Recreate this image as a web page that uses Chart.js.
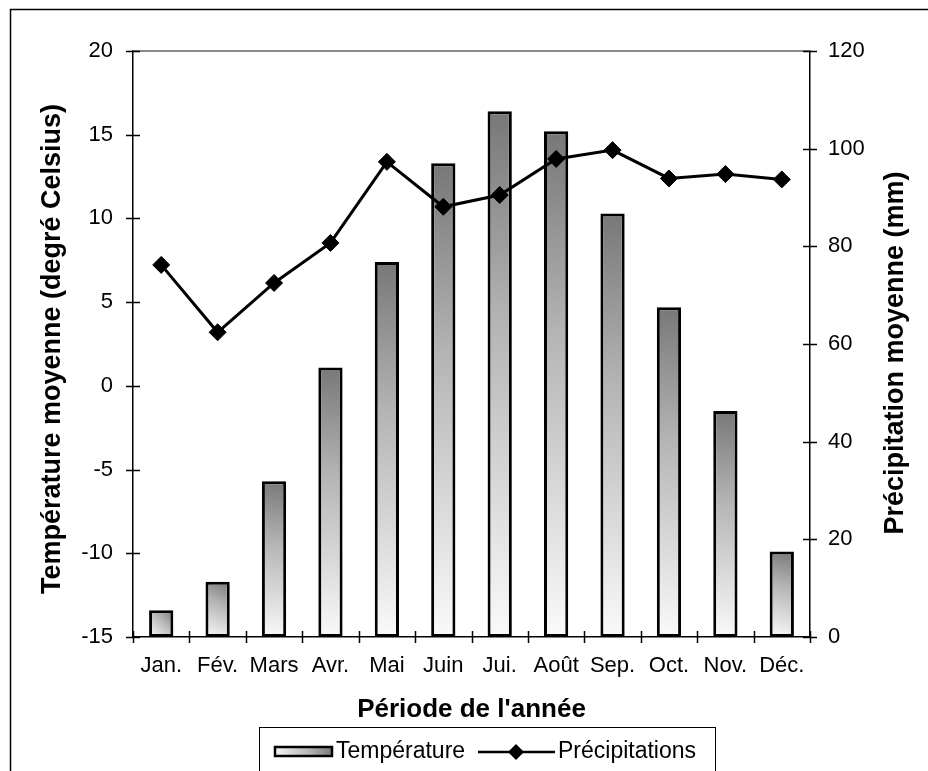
<!DOCTYPE html>
<html><head><meta charset="utf-8">
<script src="https://cdn.jsdelivr.net/npm/chart.js@4.4.1/dist/chart.umd.min.js"></script>
<style>html,body{margin:0;padding:0;background:#fff;}canvas{display:block;}</style>
</head><body>
<canvas id="c" width="928" height="771"></canvas>
<script>
const months = ['Jan.','Fév.','Mars','Avr.','Mai','Juin','Jui.','Août','Sep.','Oct.','Nov.','Déc.'];
const temperature = [-13.4,-11.7,-5.7,1.1,7.4,13.3,16.4,15.2,10.3,4.7,-1.5,-9.9];
const precipitation = [76.2,62.4,72.5,80.7,97.3,88.1,90.5,97.9,99.7,93.9,94.8,93.7];
const tempTicks = {min:-15, max:20, step:5};
const precTicks = {min:0, max:120, step:20};
const xTitle = "Période de l'année";
const yTitle = 'Température moyenne (degré Celsius)';
const y1Title = 'Précipitation moyenne (mm)';
const legendLabels = ['Température','Précipitations'];

const FONT = "'Liberation Sans', Arial, sans-serif";
const BAR_PCT = 0.43;

function barGradient(ctx2d, x0, y0, x1, y1) {
  if (![x0, y0, x1, y1].every(Number.isFinite)) return '#aaa';
  const g = ctx2d.createLinearGradient(x0, y0, x1, y1);
  g.addColorStop(0, '#fafafa');
  g.addColorStop(0.6, '#b4b4b4');
  g.addColorStop(1, '#777777');
  return g;
}

const decorPlugin = {
  id: 'decor',
  beforeDraw(chart) {
    const c = chart.ctx;
    c.save();
    c.fillStyle = '#fff';
    c.fillRect(0, 0, chart.width, chart.height);
    c.strokeStyle = '#000';
    c.lineWidth = 1.5;
    c.strokeRect(10.5, 9.5, 2000, 2000);
    c.restore();
  },
  afterDraw(chart) {
    const c = chart.ctx;
    const a = chart.chartArea;
    const sx = chart.scales.x, sy = chart.scales.y, sy1 = chart.scales.y1;
    c.save();
    c.strokeStyle = '#8a8a8a';
    c.lineWidth = 2;
    c.beginPath(); c.moveTo(a.left, a.top); c.lineTo(a.right, a.top); c.stroke();
    c.strokeStyle = '#000';
    c.lineWidth = 1.5;
    c.beginPath();
    sy.ticks.forEach((t) => {
      const p = Math.round(sy.getPixelForValue(t.value)) + 0.5;
      c.moveTo(a.left - 7, p); c.lineTo(a.left + 7, p);
    });
    sy1.ticks.forEach((t) => {
      const p = Math.round(sy1.getPixelForValue(t.value)) + 0.5;
      c.moveTo(a.right - 7, p); c.lineTo(a.right + 7, p);
    });
    for (let i = 0; i <= months.length; i++) {
      const p = Math.round(sx.getPixelForValue(i - 0.5)) + 0.5;
      c.moveTo(p, a.bottom - 6); c.lineTo(p, a.bottom + 6);
    }
    c.stroke();
    c.fillStyle = '#000';
    c.font = 'bold 27px ' + FONT;
    c.textAlign = 'center';
    c.textBaseline = 'middle';
    c.save(); c.translate(53, 349); c.rotate(-Math.PI / 2); c.fillText(yTitle, 0, 0); c.restore();
    c.save(); c.translate(896, 353); c.rotate(-Math.PI / 2); c.fillText(y1Title, 0, 0); c.restore();
    c.font = 'bold 26px ' + FONT;
    c.fillText(xTitle, (a.left + a.right) / 2, 710);
    c.strokeStyle = '#000';
    c.lineWidth = 1;
    c.strokeRect(259.5, 727.5, 456, 100);
    c.fillStyle = barGradient(c, 274, 757, 333, 746);
    c.fillRect(274, 746, 59, 11);
    c.lineWidth = 2.5;
    c.strokeRect(275, 747, 57, 9);
    c.font = '23px ' + FONT;
    c.textAlign = 'left';
    c.fillStyle = '#000';
    c.fillText(legendLabels[0], 336, 752);
    c.lineWidth = 2.5;
    c.beginPath(); c.moveTo(478, 752); c.lineTo(555, 752); c.stroke();
    c.beginPath();
    c.moveTo(516, 744); c.lineTo(524, 752); c.lineTo(516, 760); c.lineTo(508, 752); c.closePath();
    c.fill();
    c.fillText(legendLabels[1], 558, 752);
    c.restore();
  }
};

new Chart(document.getElementById('c'), {
  data: {
    labels: months,
    datasets: [
      {
        type: 'line',
        label: legendLabels[1],
        data: precipitation,
        yAxisID: 'y1',
        borderColor: '#000',
        borderWidth: 3,
        pointStyle: 'rectRot',
        pointRadius: 8.5,
        pointBackgroundColor: '#000',
        pointBorderColor: '#000',
        pointBorderWidth: 1,
        tension: 0,
        order: 0
      },
      {
        type: 'bar',
        label: legendLabels[0],
        data: temperature,
        yAxisID: 'y',
        base: tempTicks.min,
        borderColor: '#000',
        borderWidth: 3,
        borderSkipped: false,
        barPercentage: BAR_PCT,
        categoryPercentage: 1.0,
        order: 1,
        backgroundColor: (ctx) => {
          const chart = ctx.chart;
          if (ctx.type !== 'data' || !chart.scales || !chart.scales.x || !chart.scales.y) return '#aaa';
          const sx = chart.scales.x, sy = chart.scales.y;
          const cx = sx.getPixelForValue(ctx.dataIndex);
          const half = (sx.getPixelForValue(1) - sx.getPixelForValue(0)) * BAR_PCT / 2;
          const top = sy.getPixelForValue(temperature[ctx.dataIndex]);
          const bot = sy.getPixelForValue(tempTicks.min);
          return barGradient(chart.ctx, cx - half, bot, cx + half, top);
        }
      }
    ]
  },
  options: {
    responsive: false,
    animation: false,
    devicePixelRatio: 1,
    layout: { padding: { left: 0, right: 0, top: 51, bottom: 0 } },
    plugins: { legend: { display: false }, tooltip: { enabled: false } },
    scales: {
      x: {
        type: 'category',
        offset: true,
        grid: { display: false, offset: true },
        border: { display: true, color: '#000', width: 1.5 },
        ticks: { color: '#000', font: { family: FONT, size: 22 }, padding: 8, maxRotation: 0, autoSkip: false },
        afterFit(s) { s.height = 134; }
      },
      y: {
        type: 'linear',
        position: 'left',
        min: tempTicks.min, max: tempTicks.max,
        grid: { display: false, drawTicks: false },
        border: { display: true, color: '#000', width: 1.5 },
        ticks: { stepSize: tempTicks.step, color: '#000', font: { family: FONT, size: 22 }, padding: 20 },
        afterFit(s) { s.width = 133; }
      },
      y1: {
        type: 'linear',
        position: 'right',
        min: precTicks.min, max: precTicks.max,
        grid: { display: false, drawTicks: false },
        border: { display: true, color: '#000', width: 1.5 },
        ticks: { stepSize: precTicks.step, color: '#000', font: { family: FONT, size: 22 }, padding: 18 },
        afterFit(s) { s.width = 118; }
      }
    }
  },
  plugins: [decorPlugin]
});
</script>
</body></html>
